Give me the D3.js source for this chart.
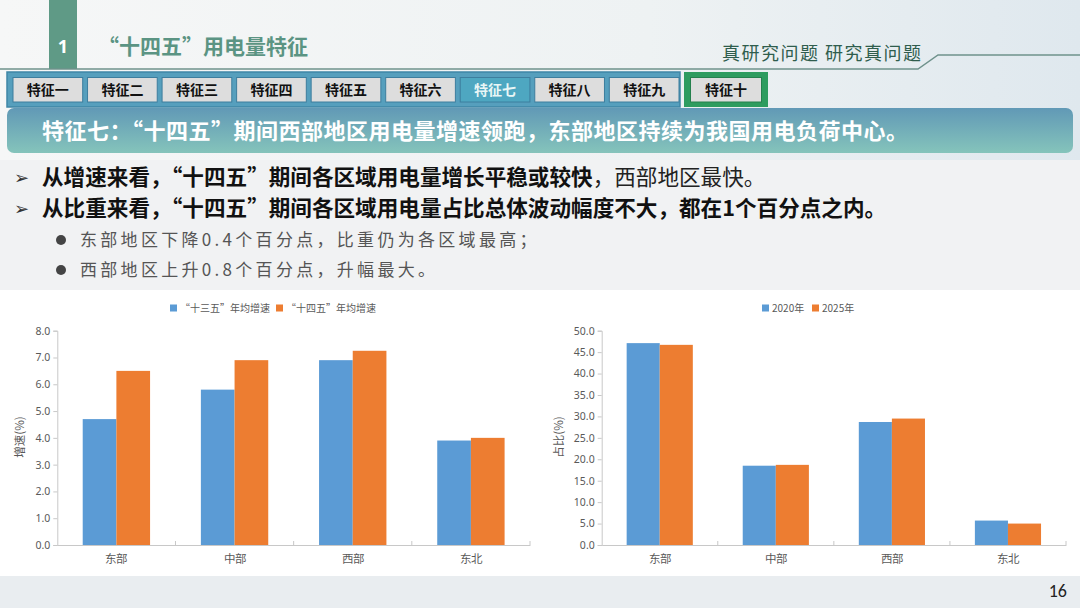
<!DOCTYPE html>
<html lang="zh-CN">
<head>
<meta charset="utf-8">
<script src="https://cdn.jsdelivr.net/npm/d3@7"></script>
<style>
  html, body { margin: 0; padding: 0; background: #fff; }
  svg { display: block; font-family: "Noto Sans CJK SC", "Noto Sans", sans-serif; }
</style>
</head>
<body>
<svg id="slide" width="1080" height="608"></svg>
<script>
// chart data
const regions = ["东部", "中部", "西部", "东北"];

const growthSeries = ["“十三五”年均增速", "“十四五”年均增速"];
const growth13 = [4.7, 5.8, 6.9, 3.9];
const growth14 = [6.5, 6.9, 7.25, 4.0];
const growthTicks = [0, 1, 2, 3, 4, 5, 6, 7, 8];

const shareSeries = ["2020年", "2025年"];
const share2020 = [47.1, 18.5, 28.7, 5.7];
const share2025 = [46.7, 18.7, 29.5, 5.0];
const shareTicks = [0, 5, 10, 15, 20, 25, 30, 35, 40, 45, 50];

const tabs = ["特征一", "特征二", "特征三", "特征四", "特征五", "特征六", "特征七", "特征八", "特征九"];
const activeTab = "特征七";
const lastTab = "特征十";

const colors = ["#5b9bd5", "#ed7d31"];

const svg = d3.select("#slide");
const defs = svg.append("defs");

// background pieces
const hg = defs.append("linearGradient").attr("id", "headGrad");
hg.append("stop").attr("offset", "0%").attr("stop-color", "#f6f7f7");
hg.append("stop").attr("offset", "60%").attr("stop-color", "#eef2f3");
hg.append("stop").attr("offset", "100%").attr("stop-color", "#dfe8ee");

const bg = defs.append("linearGradient").attr("id", "bandGrad")
  .attr("x1", 0).attr("y1", 0).attr("x2", 0).attr("y2", 1);
bg.append("stop").attr("offset", "0%").attr("stop-color", "#6199b6");
bg.append("stop").attr("offset", "100%").attr("stop-color", "#85c4bb");

svg.append("rect").attr("width", 1080).attr("height", 608).attr("fill", "#f1f2f3");
svg.append("rect").attr("width", 1080).attr("height", 160).attr("fill", "url(#headGrad)");
svg.append("rect").attr("y", 290).attr("width", 1080).attr("height", 286).attr("fill", "#ffffff");
svg.append("rect").attr("y", 576).attr("width", 1080).attr("height", 32).attr("fill", "#e9edf0");

// header
svg.append("rect").attr("x", 49).attr("y", 0).attr("width", 28).attr("height", 69).attr("fill", "#5f9a86");
svg.append("text").attr("x", 63).attr("y", 53).attr("text-anchor", "middle")
  .attr("fill", "#fff").attr("font-size", 18).attr("font-weight", "bold")
  .attr("font-family", "'Open Sans', sans-serif").text("1");
svg.append("text").attr("x", 98).attr("y", 54)
  .attr("fill", "#5b9483").attr("font-size", 21).attr("font-weight", "bold")
  .text("“十四五”用电量特征");
svg.append("path")
  .attr("d", d3.line()([[0, 69], [918, 69], [938, 55], [1080, 55]]))
  .attr("fill", "none").attr("stroke", "#6f928c").attr("stroke-width", 1.5);
svg.append("text").attr("x", 722).attr("y", 60)
  .attr("fill", "#2f5d4d").attr("font-size", 18).attr("letter-spacing", 1.5)
  .text("真研究问题 研究真问题");

// tab row
svg.append("rect").attr("x", 7).attr("y", 72).attr("width", 673).attr("height", 35)
  .attr("fill", "#569fbd").attr("stroke", "#3f86a6").attr("stroke-width", 1.5);
const tabX = d3.scaleBand().domain(tabs).range([13, 679]).paddingInner(0.065).paddingOuter(0);
const tg = svg.append("g").selectAll("g").data(tabs).join("g")
  .attr("transform", d => `translate(${tabX(d)},77.5)`);
tg.append("rect").attr("width", tabX.bandwidth()).attr("height", 24.5)
  .attr("fill", d => d === activeTab ? "#4ea7c1" : "#dddddd")
  .attr("stroke", "#3d7e9e").attr("stroke-width", 1);
tg.append("text").attr("x", tabX.bandwidth() / 2).attr("y", 17.5).attr("text-anchor", "middle")
  .attr("font-size", 14).attr("font-weight", "bold")
  .attr("fill", d => d === activeTab ? "#e9f6f6" : "#111")
  .text(d => d);

svg.append("rect").attr("x", 684).attr("y", 72).attr("width", 84).attr("height", 35).attr("fill", "#2e9c5f");
svg.append("rect").attr("x", 690.5).attr("y", 77.5).attr("width", 71).attr("height", 24.5)
  .attr("fill", "#dddddd").attr("stroke", "#25804d").attr("stroke-width", 1);
svg.append("text").attr("x", 726).attr("y", 95).attr("text-anchor", "middle")
  .attr("font-size", 14).attr("font-weight", "bold").attr("fill", "#111").text(lastTab);

// headline band
svg.append("rect").attr("x", 7).attr("y", 108).attr("width", 1066).attr("height", 45).attr("rx", 7)
  .attr("fill", "url(#bandGrad)");
svg.append("text").attr("x", 42).attr("y", 139)
  .attr("fill", "#fff").attr("font-size", 22).attr("font-weight", "bold").attr("letter-spacing", 0.5)
  .text("特征七：“十四五”期间西部地区用电量增速领跑，东部地区持续为我国用电负荷中心。");

// bullets
const b1 = svg.append("text").attr("x", 42).attr("y", 185).attr("font-size", 21.6).attr("fill", "#111");
b1.append("tspan").attr("font-weight", "bold").text("从增速来看，“十四五”期间各区域用电量增长平稳或较快");
b1.append("tspan").attr("fill", "#222").text("，西部地区最快。");
svg.append("text").attr("x", 42).attr("y", 216).attr("font-size", 21.6).attr("fill", "#111")
  .attr("font-weight", "bold")
  .text("从比重来看，“十四五”期间各区域用电量占比总体波动幅度不大，都在1个百分点之内。");
[178, 209].forEach(y => {
  svg.append("text").attr("x", 14).attr("y", y + 6).attr("font-size", 18).attr("fill", "#333")
    .attr("font-family", "'DejaVu Sans', sans-serif").text("➢");
});
const subs = ["东部地区下降0.4个百分点，比重仍为各区域最高；", "西部地区上升0.8个百分点，升幅最大。"];
subs.forEach((s, i) => {
  const y = 240 + i * 30;
  svg.append("circle").attr("cx", 61).attr("cy", y).attr("r", 5).attr("fill", "#444");
  svg.append("text").attr("x", 80).attr("y", y + 6).attr("font-size", 17).attr("letter-spacing", 3.3)
    .attr("fill", "#555").text(s);
});

// grouped bar chart
function drawChart(cfg) {
  const g = svg.append("g");
  const x0 = d3.scaleBand().domain(regions).range(cfg.xr);
  const pad = x0.bandwidth() * 0.215;
  const x1 = d3.scaleBand().domain(cfg.series).range([pad, x0.bandwidth() - pad]);
  const y = d3.scaleLinear().domain(cfg.domain).range([545, 330.7]);

  const rows = regions.map((r, i) => ({ region: r, vals: cfg.values.map((v, k) => ({ s: cfg.series[k], v: v[i], k })) }));
  g.append("g").selectAll("g").data(rows).join("g")
    .attr("transform", d => `translate(${x0(d.region)},0)`)
    .selectAll("rect").data(d => d.vals).join("rect")
      .attr("x", d => x1(d.s)).attr("width", x1.bandwidth())
      .attr("y", d => y(d.v)).attr("height", d => y(0) - y(d.v))
      .attr("fill", d => colors[d.k]);

  // y axis
  const ya = g.append("g").attr("transform", `translate(${cfg.xr[0]},0)`)
    .call(d3.axisLeft(y).tickValues(cfg.ticks).tickFormat(d3.format(".1f")).tickSize(4).tickPadding(3));
  ya.select(".domain").attr("stroke", "#c8c8c8");
  ya.selectAll(".tick line").attr("stroke", "#c8c8c8");
  ya.selectAll("text").attr("fill", "#595959").attr("font-size", 10.5)
    .attr("font-family", "'Noto Sans', sans-serif");

  // x axis
  const xa = g.append("g").attr("transform", "translate(0,545)")
    .call(d3.axisBottom(x0).tickSize(0).tickPadding(10));
  xa.select(".domain").attr("stroke", "#c8c8c8");
  xa.selectAll("text").attr("fill", "#595959").attr("font-size", 11.5);
  g.append("g").selectAll("line").data(regions.slice(1).concat([null])).join("line")
    .attr("x1", d => d ? x0(d) : cfg.xr[1]).attr("x2", d => d ? x0(d) : cfg.xr[1])
    .attr("y1", 545).attr("y2", 541).attr("stroke", "#c8c8c8");

  // axis title
  g.append("text").attr("transform", `translate(${cfg.titleX},437) rotate(-90)`)
    .attr("text-anchor", "middle").attr("font-size", 11.5).attr("fill", "#595959").text(cfg.title);

  // legend
  const lg = g.append("g").selectAll("g").data(cfg.series).join("g")
    .attr("transform", (d, i) => `translate(${cfg.legendX[i]},308)`);
  lg.append("rect").attr("x", 0).attr("y", -3.5).attr("width", 7).attr("height", 7)
    .attr("fill", (d, i) => colors[i]);
  lg.append("text").attr("x", 10).attr("y", 4).attr("font-size", 10).attr("fill", "#595959").text(d => d);
}

drawChart({
  xr: [57.3, 530], domain: [0, 8], ticks: growthTicks,
  series: growthSeries, values: [growth13, growth14],
  title: "增速(%)", titleX: 24, legendX: [170, 276]
});
drawChart({
  xr: [601.7, 1066], domain: [0, 50], ticks: shareTicks,
  series: shareSeries, values: [share2020, share2025],
  title: "占比(%)", titleX: 563, legendX: [762, 812]
});

// page number
svg.append("text").attr("x", 1067).attr("y", 597).attr("text-anchor", "end")
  .attr("font-size", 18).attr("fill", "#222").attr("font-family", "Calibri, 'Liberation Sans', sans-serif").text("16");
</script>
</body>
</html>
